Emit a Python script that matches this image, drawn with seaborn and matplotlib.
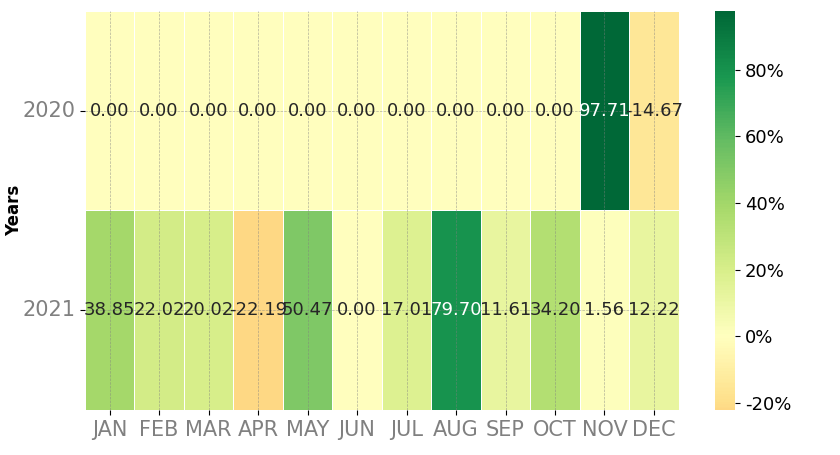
import seaborn as sns
import pandas as pd
import matplotlib.pyplot as plt
from matplotlib.ticker import FuncFormatter

# -------------------------------
# DATA
# -------------------------------
months = ["JAN", "FEB", "MAR", "APR", "MAY", "JUN",
          "JUL", "AUG", "SEP", "OCT", "NOV", "DEC"]
years = ["2020", "2021"]
returns_2020 = [0.00, 0.00, 0.00, 0.00, 0.00, 0.00,
                0.00, 0.00, 0.00, 0.00, 97.71, -14.67]
returns_2021 = [38.85, 22.02, 20.02, -22.19, 50.47, 0.00,
                17.01, 79.70, 11.61, 34.20, 1.56, 12.22]

df = pd.DataFrame([returns_2020, returns_2021], index=years, columns=months)

# -------------------------------
# PLOT
# -------------------------------
fig = plt.figure(figsize=(8.4, 4.55), dpi=100)
ax = fig.add_axes([0.101, 0.099, 0.707, 0.877])
cax = fig.add_axes([0.851, 0.099, 0.024, 0.877])

sns.heatmap(
    df,
    ax=ax,
    cbar_ax=cax,
    cmap="RdYlGn",
    center=0,
    annot=True,
    fmt=".2f",
    annot_kws={"fontsize": 13},
    linewidths=0.5,
    linecolor="white",
)

ax.grid(True, color="grey", linestyle="--", linewidth=0.5, alpha=0.6)
ax.set_axisbelow(False)

ax.set_xlabel("")
ax.set_ylabel("Years", fontsize=12, fontweight="bold", labelpad=-1)
ax.tick_params(axis="x", labelsize=15, labelcolor="grey", rotation=0)
ax.tick_params(axis="y", labelsize=15, labelcolor="grey", rotation=0)

cbar = ax.collections[0].colorbar
cbar.ax.yaxis.set_major_formatter(FuncFormatter(lambda v, p: f"{v:.0f}%"))
cbar.ax.tick_params(labelsize=13)
cbar.outline.set_visible(False)

plt.savefig("out.png", dpi=100)
